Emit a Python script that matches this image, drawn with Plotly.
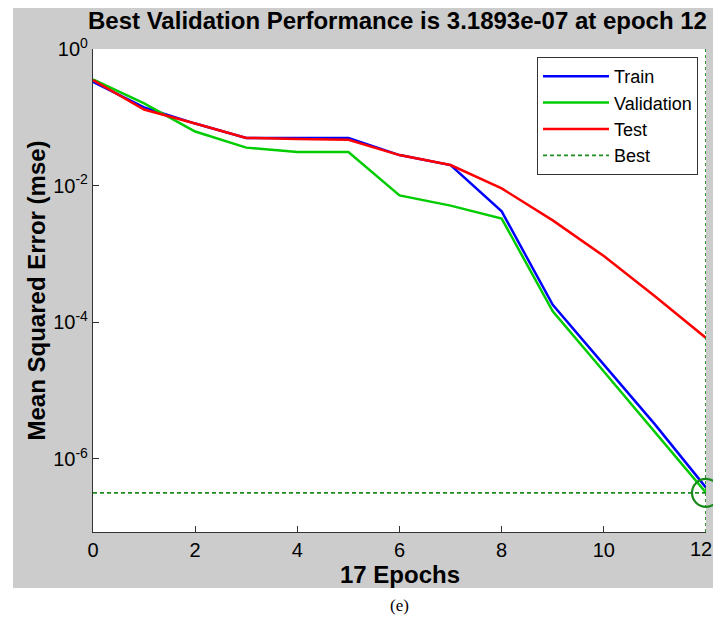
import plotly.graph_objects as go

epochs = list(range(13))
train = [0.33, 0.14, 0.081, 0.050, 0.050, 0.050, 0.028, 0.020, 0.0042, 1.8e-4, 2.4e-5, 3.2e-6, 3.8e-7]
validation = [0.36, 0.16, 0.062, 0.036, 0.031, 0.031, 0.0072, 0.0051, 0.0033, 1.45e-4, 1.9e-5, 2.5e-6, 3.1893e-7]
test = [0.35, 0.13, 0.081, 0.050, 0.048, 0.047, 0.028, 0.020, 0.0091, 0.0031, 9.3e-4, 2.4e-4, 5.9e-5]
best_epoch = 12
best_value = 3.1893e-07
y_tickvals = [1, 1e-2, 1e-4, 1e-6]
y_ticktext = ["10<sup>0</sup>", "10<sup>-2</sup>", "10<sup>-4</sup>", "10<sup>-6</sup>"]
x_tickvals = [0, 2, 4, 6, 8, 10, 12]
x_ticktext = ["0", "2", "4", "6", "8", "10", ""]  # last label drawn as annotation so it is not clipped
last_x_label = "12"

FONT = "Liberation Sans, Arial, sans-serif"
GRAY = "#cccccc"

# page coords -> paper coords (plot area spans page x 93..706, y 49..532)
X0, X1, Y0, Y1 = 93, 706, 49, 532

def px(x):
    return (x - X0) / (X1 - X0)

def py(y):
    return (Y1 - y) / (Y1 - Y0)

fig = go.Figure()
fig.add_trace(go.Scatter(x=epochs, y=train, mode="lines", name="Train",
                         line=dict(color="#0000ff", width=2.5)))
fig.add_trace(go.Scatter(x=epochs, y=validation, mode="lines", name="Validation",
                         line=dict(color="#00cc00", width=2.5)))
fig.add_trace(go.Scatter(x=epochs, y=test, mode="lines", name="Test",
                         line=dict(color="#ff0000", width=2.5)))
fig.add_trace(go.Scatter(x=[0, best_epoch], y=[best_value, best_value], mode="lines", name="Best",
                         line=dict(color="#1e8c1e", width=1.8, dash="4px,3px")))
fig.add_trace(go.Scatter(x=[best_epoch, best_epoch], y=[10 ** -7.07, 1], mode="lines", showlegend=False,
                         line=dict(color="#1e8c1e", width=1.8, dash="3px,3px"), cliponaxis=False))
fig.add_trace(go.Scatter(x=[best_epoch], y=[best_value], mode="markers", showlegend=False,
                         marker=dict(symbol="circle-open", size=28, color="#1a8a1a", line=dict(width=2.2)),
                         cliponaxis=False))

fig.update_layout(
    width=705, height=612,
    margin=dict(l=X0 - 8, r=705 - (X1 - 8), t=Y0 - 8, b=612 - (Y1 - 8)),
    paper_bgcolor=GRAY, plot_bgcolor="white",
    font=dict(family=FONT, size=20, color="black"),
    showlegend=True,
    legend=dict(x=px(698), y=py(57), xanchor="right", yanchor="top",
                bgcolor="white", bordercolor="#333333", borderwidth=1,
                font=dict(size=18, family=FONT), itemwidth=66, tracegroupgap=0),
    xaxis=dict(range=[0, 12], tickvals=x_tickvals, ticktext=x_ticktext, ticks="inside", ticklen=6,
               tickcolor="#333333", showline=True, linecolor="#333333", linewidth=1.2,
               showgrid=False, zeroline=False, tickfont=dict(size=20)),
    yaxis=dict(type="log", range=[-7.07, 0], tickvals=y_tickvals, ticktext=y_ticktext,
               ticks="inside", ticklen=6, tickcolor="#333333", showline=True,
               linecolor="#333333", linewidth=1.2, showgrid=False, zeroline=False,
               tickfont=dict(size=20)),
    shapes=[
        dict(type="rect", xref="paper", yref="paper", x0=-0.3, x1=1.1, y0=-0.3, y1=py(588),
             fillcolor="white", line=dict(width=0), layer="above"),
        dict(type="rect", xref="paper", yref="paper", x0=-0.3, x1=px(13), y0=-0.3, y1=1.2,
             fillcolor="white", line=dict(width=0), layer="above"),
    ],
    annotations=[
        dict(text="Best Validation Performance is 3.1893e-07 at epoch 12", xref="paper", yref="paper",
             x=px(397), y=py(21), xanchor="center", yanchor="middle",
             showarrow=False, font=dict(size=24, family=FONT, weight="bold")),
        dict(text="Mean Squared Error (mse)", xref="paper", yref="paper",
             x=px(36), y=0.5, xanchor="center", yanchor="middle", textangle=-90,
             showarrow=False, font=dict(size=24, family=FONT, weight="bold")),
        dict(text="17 Epochs", xref="paper", yref="paper",
             x=0.5, y=py(574), xanchor="center", yanchor="middle",
             showarrow=False, font=dict(size=24, family=FONT, weight="bold")),
        dict(text=last_x_label, xref="paper", yref="paper",
             x=px(713), y=py(549), xanchor="right", yanchor="middle",
             showarrow=False, borderpad=0, font=dict(size=20, family=FONT)),
        dict(text="(e)", xref="paper", yref="paper",
             x=0.5, y=py(605), xanchor="center", yanchor="middle",
             showarrow=False, font=dict(size=17, family="Liberation Serif, serif")),
    ],
)

fig.write_html("out.html")
